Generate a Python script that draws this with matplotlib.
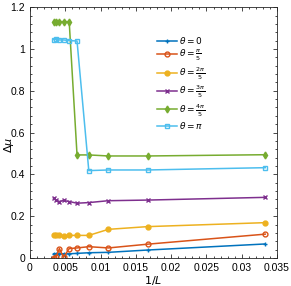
import matplotlib

matplotlib.use("Agg")
import matplotlib.pyplot as plt
from matplotlib.ticker import AutoMinorLocator

plt.rcParams["font.family"] = ["Liberation Sans", "DejaVu Sans"]

# 1/L for L = 300, 270, 240, 210, 180, 150, 120, 90, 60, 30
inv_L = [1 / 300, 1 / 270, 1 / 240, 1 / 210, 1 / 180, 1 / 150, 1 / 120, 1 / 90, 1 / 60, 1 / 30]

dmu_0 = [0.020, 0.020, 0.020, 0.020, 0.020, 0.022, 0.025, 0.027, 0.038, 0.067]
dmu_pi5 = [0.002, 0.005, 0.045, 0.003, 0.045, 0.048, 0.054, 0.048, 0.066, 0.114]
dmu_2pi5 = [0.108, 0.108, 0.108, 0.105, 0.108, 0.108, 0.108, 0.137, 0.150, 0.169]
dmu_3pi5 = [0.286, 0.275, 0.270, 0.275, 0.270, 0.262, 0.265, 0.274, 0.277, 0.290]
dmu_4pi5 = [1.131, 1.131, 1.131, 1.131, 1.131, 0.493, 0.493, 0.488, 0.488, 0.494]
dmu_pi = [1.045, 1.047, 1.043, 1.043, 1.040, 1.038, 0.418, 0.421, 0.421, 0.432]

series = [
    (dmu_0, r"$\theta=0$", "#0072BD", "+", False),
    (dmu_pi5, r"$\theta=\frac{\pi}{5}$", "#D95319", "o", False),
    (dmu_2pi5, r"$\theta=\frac{2\pi}{5}$", "#EDB120", "o", True),
    (dmu_3pi5, r"$\theta=\frac{3\pi}{5}$", "#7E2F8E", "x", False),
    (dmu_4pi5, r"$\theta=\frac{4\pi}{5}$", "#77AC30", "d", True),
    (dmu_pi, r"$\theta=\pi$", "#4DBEEE", "s", False),
]

fig = plt.figure(figsize=(2.91, 2.86), dpi=100)
ax = fig.add_axes([0.103, 0.098, 0.849, 0.877])

for vals, label, color, marker, filled in series:
    ax.plot(
        inv_L,
        vals,
        marker=marker,
        color=color,
        linewidth=1.1,
        markersize=3.5,
        markeredgewidth=1.0,
        markerfacecolor=color if filled else "none",
        label=label,
    )

ax.set_xlim(0, 0.035)
ax.set_ylim(0, 1.2)
ax.set_xticks([0, 0.005, 0.01, 0.015, 0.02, 0.025, 0.03, 0.035])
ax.set_xticklabels(["0", "0.005", "0.01", "0.015", "0.02", "0.025", "0.03", "0.035"])
ax.set_yticks([0, 0.2, 0.4, 0.6, 0.8, 1.0, 1.2])
ax.set_yticklabels(["0", "0.2", "0.4", "0.6", "0.8", "1", "1.2"])
ax.xaxis.set_minor_locator(AutoMinorLocator(5))
ax.yaxis.set_minor_locator(AutoMinorLocator(5))
ax.tick_params(which="both", direction="in", top=True, right=True, labelsize=7.5, width=0.5)
ax.tick_params(which="major", length=3)
ax.tick_params(which="minor", length=1.5)
for sp in ax.spines.values():
    sp.set_linewidth(0.6)
    sp.set_color("#262626")

ax.set_xlabel(r"$1/L$", fontsize=8, labelpad=1)
ax.set_ylabel(r"$\Delta\mu$", fontsize=8)
ax.yaxis.set_label_coords(-0.055, 0.45)

ax.legend(
    loc="upper left",
    bbox_to_anchor=(0.48, 0.92),
    frameon=False,
    fontsize=6.5,
    handlelength=2.2,
    labelspacing=0.2,
    handletextpad=0.3,
)

fig.savefig("out.png", dpi=100)
